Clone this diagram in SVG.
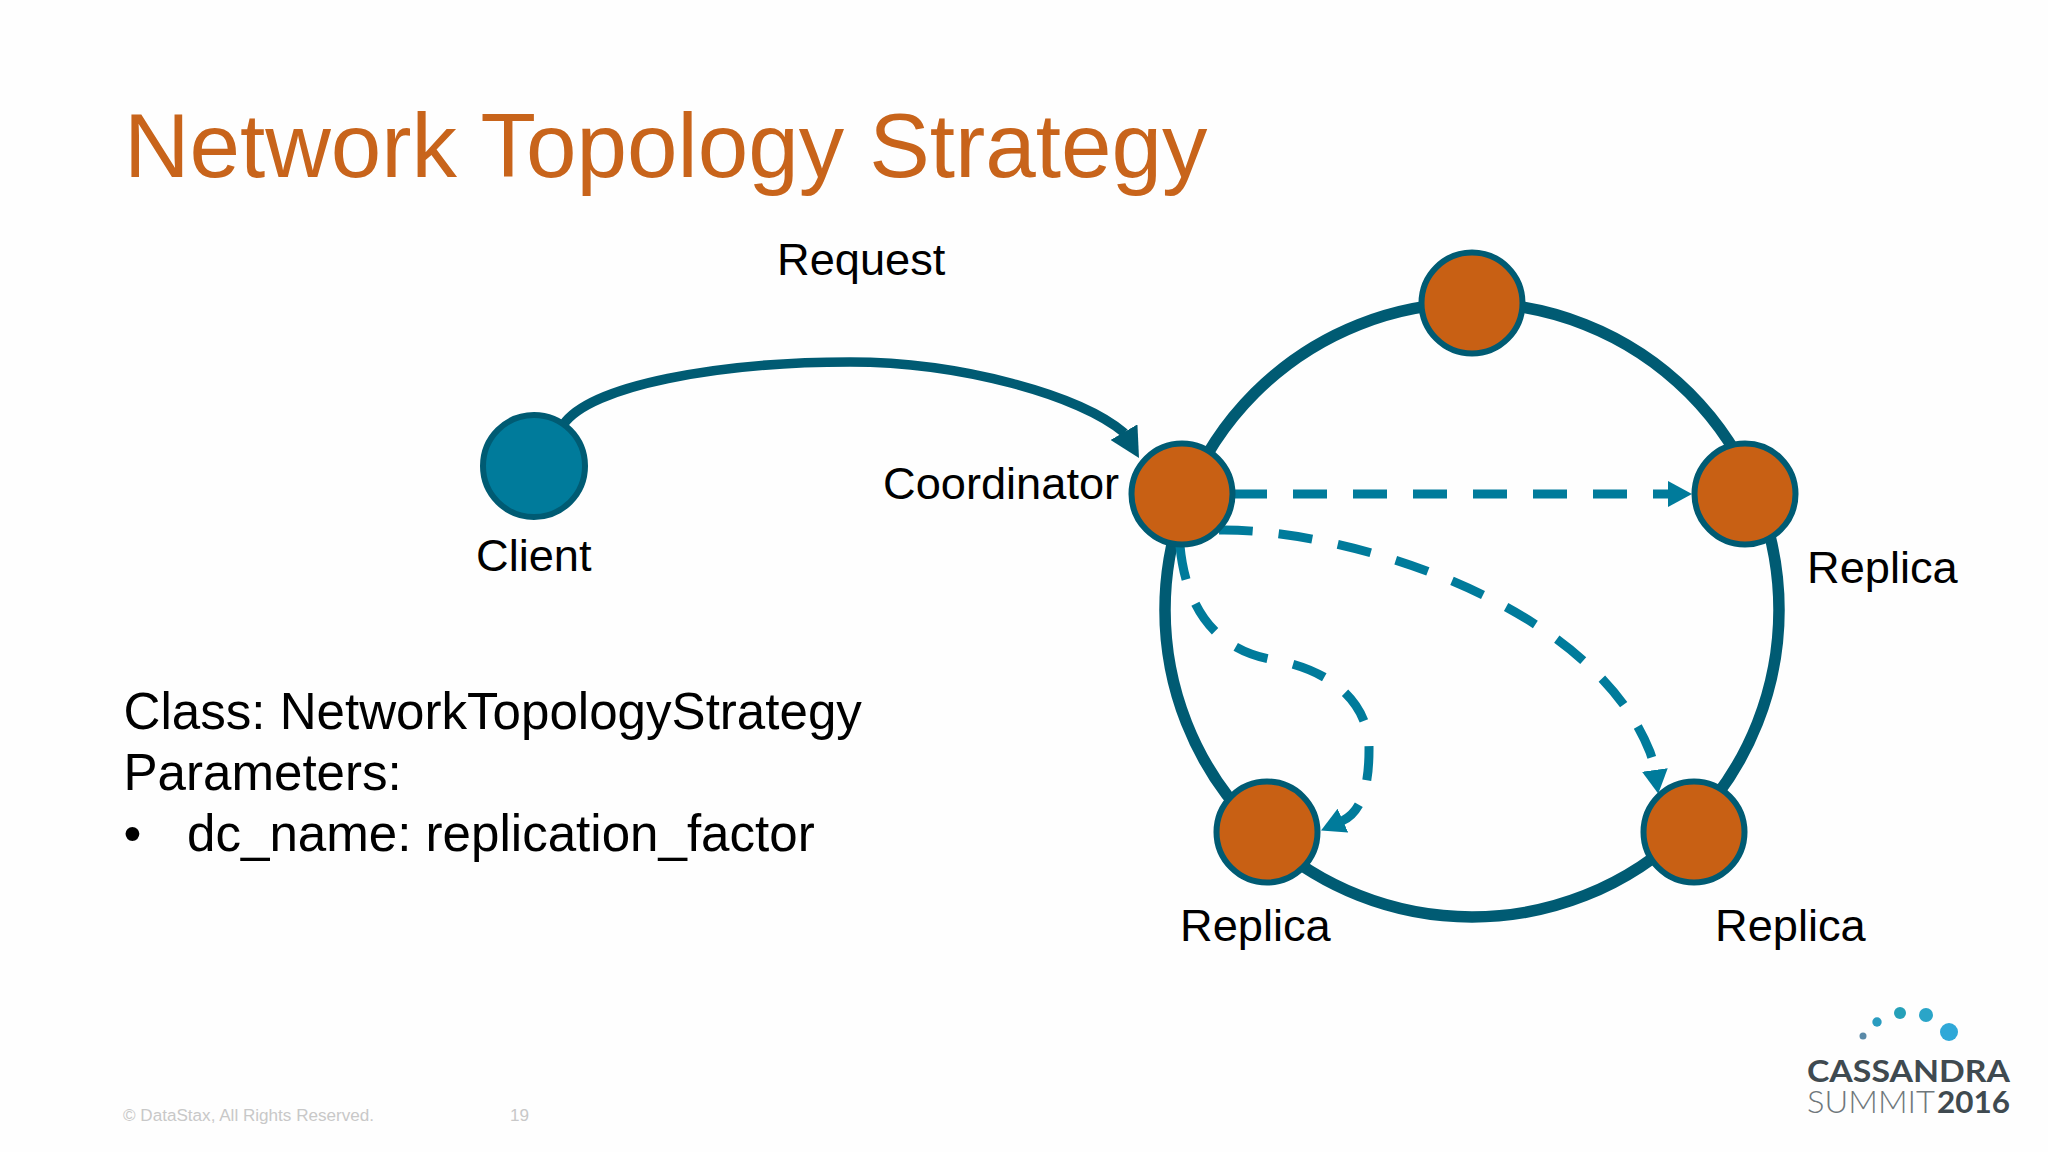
<svg xmlns="http://www.w3.org/2000/svg" width="2048" height="1152" viewBox="0 0 2048 1152">
<style>
text{font-family:"Liberation Sans",Arial,sans-serif;fill:#000}
.title{font-size:90.800px;fill:#c8641b}
.label{font-size:45.200px}
.body{font-size:51.100px}
.foot{font-size:17.100px;fill:#c8c8c8}
.logo{font-family:Lato,"Open Sans",sans-serif;fill:#3f4a50}
.node{fill:#c86014;stroke:#005b73;stroke-width:6}
.client{fill:#007b9b;stroke:#005b73;stroke-width:6}
.ring{fill:none;stroke:#005b73;stroke-width:11.500}
.req{fill:none;stroke:#005b73;stroke-width:9.500}
.dash{fill:none;stroke:#007b9b;stroke-width:9;stroke-dasharray:34 26}
</style>
<defs>
<marker id="headDark" markerUnits="userSpaceOnUse" markerWidth="30" markerHeight="31" viewBox="0 0 30 31" refX="1" refY="15.500" orient="60"><path d="M0 0L30 15.500L0 31Z" fill="#005b73"/></marker>
<marker id="headBlue" markerUnits="userSpaceOnUse" markerWidth="24" markerHeight="26" viewBox="0 0 24 26" refX="1" refY="13" orient="auto"><path d="M0 0L24 13L0 26Z" fill="#007b9b"/></marker>
</defs>
<rect width="2048" height="1152" fill="#fefefe"/>
<text class="title" x="124" y="177">Network Topology Strategy</text>
<g id="connectors">
<circle class="ring" cx="1472" cy="610" r="307"/>
<path class="req" d="M563 425C590 385 720 362 850 362C960 362 1080 395 1124.500 433" marker-end="url(#headDark)"/>
<path class="dash" d="M1233 494H1669" marker-end="url(#headBlue)"/>
<path class="dash" d="M1219 530C1340 528 1590 600 1650 752C1652 758 1654 764 1655 771" marker-end="url(#headBlue)"/>
<path class="dash" d="M1180 546C1185 600 1210 650 1275 660C1340 672 1370 710 1369 750C1369 785 1362 812 1342 821" marker-end="url(#headBlue)"/>
</g>
<g id="node-client"><circle class="client" cx="534" cy="466" r="51"/><text class="label" x="476" y="571">Client</text></g>
<g id="node-coordinator"><circle class="node" cx="1182" cy="494" r="50.500"/><text class="label" x="883" y="499">Coordinator</text></g>
<g id="node-top"><circle class="node" cx="1472" cy="303" r="50.500"/></g>
<g id="node-replica-right"><circle class="node" cx="1745" cy="494" r="50.500"/><text class="label" x="1807" y="583">Replica</text></g>
<g id="node-replica-left"><circle class="node" cx="1267" cy="832" r="50.500"/><text class="label" x="1180" y="941">Replica</text></g>
<g id="node-replica-bottom"><circle class="node" cx="1694" cy="832" r="50.500"/><text class="label" x="1715" y="941">Replica</text></g>
<text class="label" x="777" y="275">Request</text>
<g class="bodytext">
<text class="body" x="123.500" y="729">Class: NetworkTopologyStrategy</text>
<text class="body" x="123.500" y="790">Parameters:</text>
<text class="body" x="123.500" y="851">•</text>
<text class="body" x="187" y="851">dc_name: replication_factor</text>
</g>
<text class="foot" x="123" y="1121">© DataStax, All Rights Reserved.</text>
<text class="foot" x="510" y="1121">19</text>
<g id="logo">
<circle cx="1863" cy="1036" r="3.500" fill="#5a8aa8"/>
<circle cx="1877" cy="1022" r="4.700" fill="#2a9cc0"/>
<circle cx="1900" cy="1013" r="6" fill="#25a0b8"/>
<circle cx="1926" cy="1015" r="7" fill="#2aa5c8"/>
<circle cx="1949" cy="1032" r="9" fill="#2fa8d8"/>
<text class="logo" x="1807" y="1082" font-size="31" font-weight="700" textLength="203" lengthAdjust="spacingAndGlyphs">CASSANDRA</text>
<text class="logo" x="1807" y="1113" font-size="31" font-weight="300" textLength="128" lengthAdjust="spacingAndGlyphs" style="fill:#6f777b">SUMMIT</text>
<text class="logo" x="1937" y="1113" font-size="31" font-weight="700" textLength="73" lengthAdjust="spacingAndGlyphs">2016</text>
</g>
</svg>
